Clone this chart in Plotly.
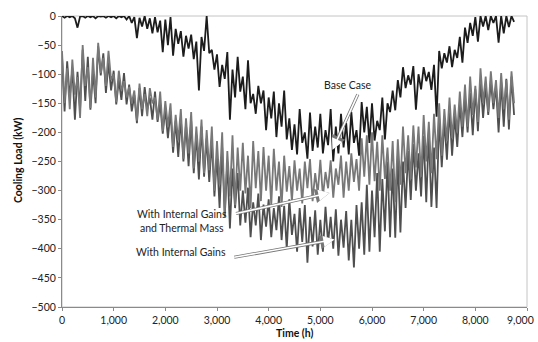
import plotly.graph_objects as go

# Hours (one reading every 50 h)
hours = [50 * i for i in range(176)]

base_case = [
    0, -3, 0, -2, 0, -4, -20, -1, 0, -3,
    0, -2, 0, -4, 0, -1, 0, -3, 0, -2,
    0, -4, 0, -2, 0, -6, 0, -12, -2, -38,
    -3, -18, 0, -22, -4, -30, -2, -28, -8, -62,
    -6, -50, -2, -68, -22, -48, -26, -70, -34, -56,
    -32, -74, -44, -128, -36, -60, 0, -64, -58, -92,
    -66, -122, -84, -108, -62, -178, -92, -140, -70, -130,
    -104, -160, -76, -150, -134, -168, -120, -150, -128, -196,
    -140, -176, -130, -208, -150, -190, -128, -212, -176, -230,
    -186, -238, -160, -218, -200, -245, -166, -232, -190, -226,
    -168, -236, -196, -222, -160, -250, -190, -236, -168, -226,
    -184, -238, -165, -218, -196, -240, -148, -200, -156, -218,
    -150, -214, -180, -196, -140, -212, -150, -165, -128, -162,
    -110, -140, -88, -124, -102, -118, -86, -161, -100, -126,
    -88, -112, -96, -127, -84, -173, -60, -90, -64, -80,
    -52, -88, -58, -72, -36, -80, -20, -46, -12, -34,
    -2, -44, 0, -18, 0, -24, 0, -12, 0, -46,
    0, -30, 0, -19, 0, -10,
]

gains_mass = [
    -60, -150, -90, -160, -75, -135, -105, -175, -50, -120,
    -88, -158, -72, -140, -46, -98, -72, -120, -60, -110,
    -100, -148, -94, -128, -112, -140, -122, -150, -128, -180,
    -116, -160, -134, -172, -124, -150, -140, -178, -130, -198,
    -146, -190, -150, -225, -170, -214, -160, -245, -176, -236,
    -165, -262, -190, -250, -178, -270, -196, -265, -190, -300,
    -215, -290, -200, -340, -232, -310, -205, -325, -226, -300,
    -218, -305, -240, -330, -215, -296, -232, -318, -225, -300,
    -240, -325, -228, -300, -250, -328, -240, -302, -258, -318,
    -248, -300, -262, -322, -250, -296, -246, -318, -270, -305,
    -247, -310, -268, -296, -248, -312, -262, -290, -240, -312,
    -250, -300, -236, -285, -246, -300, -210, -276, -205, -290,
    -200, -284, -216, -300, -205, -280, -226, -300, -215, -320,
    -212, -290, -190, -270, -205, -280, -188, -260, -190, -276,
    -170, -250, -182, -270, -168, -246, -150, -240, -160, -215,
    -140, -210, -152, -200, -130, -190, -118, -190, -104, -170,
    -120, -182, -90, -150, -104, -165, -95, -150, -110, -175,
    -98, -160, -110, -178, -95, -150,
]

gains_only = [
    -70, -164, -78, -140, -92, -178, -96, -160, -58, -146,
    -70, -161, -96, -150, -52, -102, -64, -132, -80, -128,
    -94, -152, -110, -144, -98, -152, -118, -164, -136, -184,
    -124, -172, -122, -160, -140, -178, -130, -182, -150, -202,
    -160, -210, -164, -235, -180, -242, -176, -250, -186, -258,
    -180, -270, -204, -281, -190, -276, -210, -285, -214, -310,
    -240, -330, -226, -345, -250, -365, -262, -330, -270, -360,
    -300, -355, -295, -380, -320, -360, -305, -385, -324, -362,
    -315, -380, -330, -368, -310, -385, -326, -400, -315, -376,
    -340, -405, -330, -388, -325, -424, -345, -396, -334, -410,
    -350, -405, -328, -390, -345, -400, -332, -412, -350, -398,
    -335, -420, -350, -432, -325, -400, -320, -410, -290, -405,
    -300, -380, -270, -405, -280, -370, -250, -380, -262, -381,
    -240, -372, -250, -330, -232, -316, -220, -300, -236, -310,
    -206, -320, -200, -328, -226, -330, -176, -260, -180, -247,
    -160, -240, -172, -225, -150, -208, -140, -200, -132, -205,
    -126, -198, -112, -175, -120, -170, -112, -160, -120, -200,
    -114, -190, -108, -195, -104, -170,
]

x_ticks = [0, 1000, 2000, 3000, 4000, 5000, 6000, 7000, 8000, 9000]
x_tick_labels = ["0", "1,000", "2,000", "3,000", "4,000", "5,000",
                 "6,000", "7,000", "8,000", ""]
last_x_label = "9,000"
y_ticks = [0, -50, -100, -150, -200, -250, -300, -350, -400, -450, -500]

FONT = "Lato"

fig = go.Figure()
fig.add_trace(go.Scatter(x=hours, y=gains_only, mode="lines",
                         line=dict(color="#4f4f4f", width=1.8),
                         name="With Internal Gains"))
fig.add_trace(go.Scatter(x=hours, y=gains_mass, mode="lines",
                         line=dict(color="#787878", width=1.8),
                         name="With Internal Gains and Thermal Mass"))
fig.add_trace(go.Scatter(x=hours, y=base_case, mode="lines",
                         line=dict(color="#1c1c1c", width=1.8),
                         name="Base Case"))

def arrow(head_x, head_y, tail_x, tail_y):
    for col, w, sz in (("#777777", 3.2, 0.9), ("#ffffff", 1.6, 1.4)):
        fig.add_annotation(x=head_x, y=head_y, ax=tail_x, ay=tail_y,
                           xref="x", yref="y", axref="x", ayref="y",
                           text="", showarrow=True, arrowhead=2,
                           arrowsize=sz, arrowwidth=w, arrowcolor=col)

arrow(5236, -230, 5739, -132)
arrow(5178, -304, 3339, -340)
arrow(5275, -384, 3304, -415)

txt = dict(family=FONT, size=10.5, color="#222222")
fig.add_annotation(x=5520, y=-118, xref="x", yref="y", text="Base Case",
                   showarrow=False, font=txt)
fig.add_annotation(x=2330, y=-352, xref="x", yref="y",
                   text="With Internal Gains<br>and Thermal Mass",
                   showarrow=False, font=txt, align="center")
fig.add_annotation(x=2300, y=-405, xref="x", yref="y",
                   text="With Internal Gains",
                   showarrow=False, font=txt)

# last x tick label, kept inside the page edge
fig.add_annotation(x=1, y=0, xref="paper", yref="paper",
                   xanchor="right", yanchor="top", yshift=-5, xshift=9,
                   text=last_x_label, showarrow=False,
                   font=dict(family=FONT, size=10.5, color="#222"))

fig.add_annotation(x=-0.0946, y=0.505, xref="paper", yref="paper",
                   xanchor="center", yanchor="middle",
                   text="<b>Cooling Load (kW)</b>", textangle=-90,
                   showarrow=False, font=dict(family=FONT, size=10.5, color="#111"))
fig.add_annotation(x=0.5, y=-0.089, xref="paper", yref="paper",
                   xanchor="center", yanchor="middle",
                   text="<b>Time (h)</b>", showarrow=False,
                   font=dict(family=FONT, size=10.5, color="#111"))

fig.add_shape(type="rect", xref="paper", yref="paper", x0=0, y0=0, x1=1, y1=1,
              line=dict(color="#c4c4c4", width=1), layer="below")

fig.update_layout(
    width=538, height=342, autosize=False,
    margin=dict(l=62, r=11, t=16, b=35),
    paper_bgcolor="white", plot_bgcolor="white",
    showlegend=False,
    font=dict(family=FONT, size=10, color="#222"),
)
fig.update_xaxes(range=[0, 9000], tickvals=x_ticks, ticktext=x_tick_labels,
                 showgrid=False, zeroline=False, showline=True,
                 linecolor="#8a8a8a", linewidth=1, ticks="outside",
                 ticklen=3, tickcolor="#8a8a8a", automargin=False,
                 tickfont=dict(family=FONT, size=10.5, color="#222"))
fig.update_yaxes(range=[-500, 0], tickvals=y_ticks,
                 showgrid=False, zeroline=False, showline=True,
                 linecolor="#8a8a8a", linewidth=1, ticks="outside",
                 ticklen=3, tickcolor="#8a8a8a", automargin=False,
                 tickfont=dict(family=FONT, size=10.5, color="#222"))

# remove the page's default 8 px body margin so the figure fills the window
fig.write_html("out.html",
               config={"displayModeBar": False},
               post_script="document.body.style.margin='0';")
